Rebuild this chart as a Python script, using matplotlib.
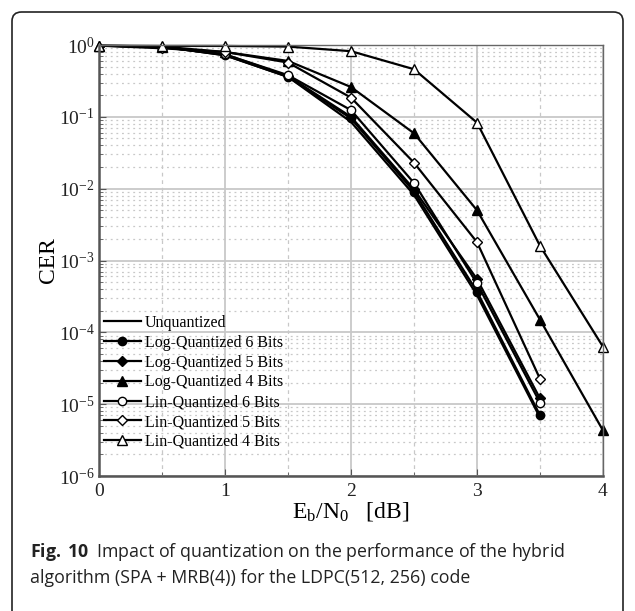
import numpy as np
import matplotlib
matplotlib.use('Agg')
from matplotlib import pyplot as plt
from matplotlib.patches import FancyBboxPatch
from matplotlib.ticker import LogLocator, MultipleLocator, NullFormatter

# data
ebn0 = [0, 0.5, 1, 1.5, 2, 2.5, 3, 3.5, 4]
unquant = [0.98, 0.95, 0.72, 0.36, 0.085, 0.0082, 3.3e-4, 6.5e-6]
log6 = [0.98, 0.95, 0.72, 0.36, 0.095, 0.0091, 3.7e-4, 7.0e-6]
log5 = [0.98, 0.93, 0.74, 0.37, 0.10, 0.0098, 5.5e-4, 1.2e-5]
log4 = [0.98, 0.95, 0.80, 0.60, 0.26, 0.059, 0.005, 1.5e-4, 4.3e-6]
lin6 = [0.98, 0.95, 0.74, 0.38, 0.124, 0.012, 4.8e-4, 1.05e-5]
lin5 = [0.98, 0.90, 0.80, 0.57, 0.185, 0.023, 0.0018, 2.25e-5]
lin4 = [0.98, 0.97, 0.97, 0.95, 0.82, 0.46, 0.083, 0.0016, 6.3e-5]

labels = ['Unquantized', 'Log-Quantized 6 Bits', 'Log-Quantized 5 Bits',
          'Log-Quantized 4 Bits', 'Lin-Quantized 6 Bits',
          'Lin-Quantized 5 Bits', 'Lin-Quantized 4 Bits']

plt.rcParams['font.family'] = ['Liberation Serif', 'DejaVu Serif']
plt.rcParams['mathtext.fontset'] = 'custom'
plt.rcParams['mathtext.rm'] = 'Liberation Serif'
plt.rcParams['mathtext.it'] = 'Liberation Serif:italic'
plt.rcParams['mathtext.bf'] = 'Open Sans:bold'  # only used for "Fig. 10"


def main():
    fig = plt.figure(figsize=(6.35, 6.11), dpi=100)

    # rounded frame around figure + caption
    box = FancyBboxPatch((12 / 635, -0.02), 611 / 635, 1 - 12 / 611 + 0.02,
                         boxstyle='round,pad=0,rounding_size=0.015',
                         transform=fig.transFigure, fill=False,
                         edgecolor='#222222', linewidth=1.2, clip_on=False)
    fig.patches.append(box)

    ax = fig.add_axes([99 / 635, 1 - 476 / 611, 504 / 635, 431 / 611])

    lw = 1.6
    ax.plot(ebn0[:len(unquant)], unquant, '-', color='black', lw=lw, label=labels[0])
    ax.plot(ebn0[:len(log6)], log6, '-o', color='black', lw=lw, ms=6,
            mfc='black', label=labels[1])
    ax.plot(ebn0[:len(log5)], log5, '-D', color='black', lw=lw, ms=5.5,
            mfc='black', label=labels[2])
    ax.plot(ebn0[:len(log4)], log4, '-^', color='black', lw=lw, ms=7,
            mfc='black', label=labels[3], clip_on=False)
    ax.plot(ebn0[:len(lin6)], lin6, '-o', color='black', lw=lw, ms=6,
            mfc='white', label=labels[4])
    ax.plot(ebn0[:len(lin5)], lin5, '-D', color='black', lw=lw, ms=5.5,
            mfc='white', label=labels[5])
    ax.plot(ebn0[:len(lin4)], lin4, '-^', color='black', lw=lw, ms=7,
            mfc='white', label=labels[6], clip_on=False)

    ax.set_yscale('log')
    ax.set_xlim(0, 4)
    ax.set_ylim(1e-6, 1)
    ax.xaxis.set_major_locator(MultipleLocator(1))
    ax.xaxis.set_minor_locator(MultipleLocator(0.5))
    ax.yaxis.set_major_locator(LogLocator(base=10, numticks=10))
    ax.yaxis.set_minor_locator(LogLocator(base=10, subs=np.arange(2, 10), numticks=20))
    ax.yaxis.set_minor_formatter(NullFormatter())

    ax.grid(True, which='major', color='#c8c8c8', lw=1.3, ls='-')
    ax.grid(True, which='minor', axis='y', color='#c8c8c8', lw=0.9, ls=(0, (1.5, 3)))
    ax.grid(True, which='minor', axis='x', color='#c8c8c8', lw=0.9, ls=(0, (3, 3)))
    ax.set_axisbelow(True)

    for s in ['left', 'bottom']:
        ax.spines[s].set_color('#555555')
        ax.spines[s].set_linewidth(1.8)
    for s in ['top', 'right']:
        ax.spines[s].set_color('#666666')
        ax.spines[s].set_linewidth(1.0)

    ax.tick_params(which='both', direction='in', colors='#555555',
                   labelcolor='#222222', labelsize=14)
    ax.tick_params(which='major', length=5)
    ax.tick_params(which='minor', length=3)
    ax.tick_params(axis='x', pad=5)
    ax.tick_params(axis='y', pad=3)

    ax.set_ylabel('CER', fontsize=17, labelpad=0)
    ax.set_xlabel(r'E$_\mathrm{b}$/N$_0$   [dB]', fontsize=17, labelpad=0)

    ax.legend(loc='upper left', bbox_to_anchor=(0.0, 0.385), frameon=False,
              fontsize=11.5, handlelength=2.3, handletextpad=0.25,
              labelspacing=0.24, borderaxespad=0.2, borderpad=0.1)

    # caption
    cap_font = ['Open Sans', 'DejaVu Sans']
    fig.text(30 / 635, 1 - 552 / 611,
             r'$\mathbf{Fig.\ 10}$  Impact of quantization on the performance of the hybrid',
             fontsize=12.8, family=cap_font, va='center',
             ha='left', color='#222222')
    fig.text(30 / 635, 1 - 578 / 611,
             'algorithm (SPA + MRB(4)) for the LDPC(512, 256) code',
             fontsize=12.8, family=cap_font, va='center',
             ha='left', color='#222222')

    plt.savefig('out.png', dpi=100)


if __name__ == '__main__':
    main()
